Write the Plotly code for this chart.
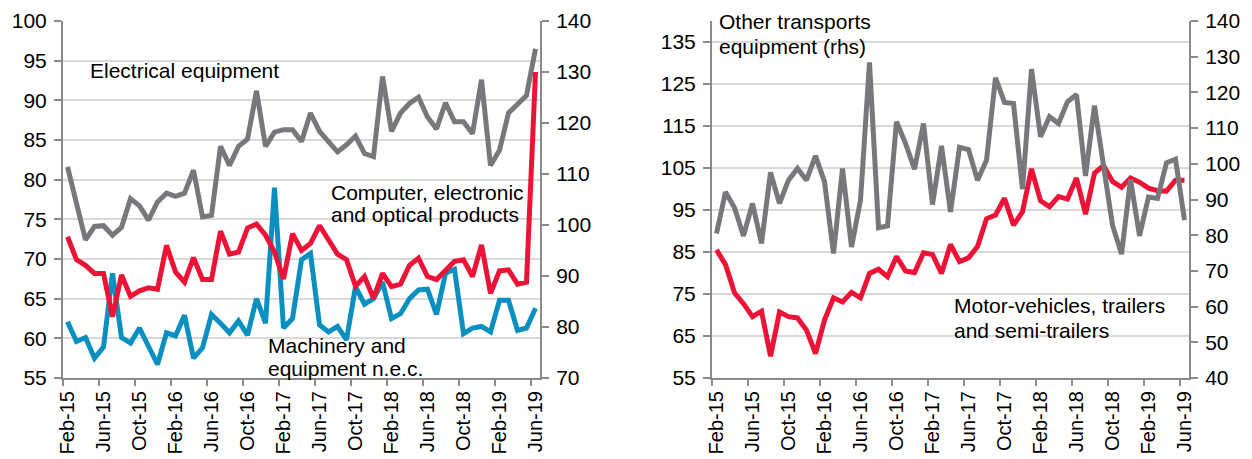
import plotly.graph_objects as go

# Categories: monthly, Feb-15 .. Jun-19
months = ["Feb-15","Mar-15","Apr-15","May-15","Jun-15","Jul-15","Aug-15","Sep-15","Oct-15","Nov-15","Dec-15",
          "Jan-16","Feb-16","Mar-16","Apr-16","May-16","Jun-16","Jul-16","Aug-16","Sep-16","Oct-16","Nov-16","Dec-16",
          "Jan-17","Feb-17","Mar-17","Apr-17","May-17","Jun-17","Jul-17","Aug-17","Sep-17","Oct-17","Nov-17","Dec-17",
          "Jan-18","Feb-18","Mar-18","Apr-18","May-18","Jun-18","Jul-18","Aug-18","Sep-18","Oct-18","Nov-18","Dec-18",
          "Jan-19","Feb-19","Mar-19","Apr-19","May-19","Jun-19"]
tick_labels = months[::4]

# Left panel
electrical = [81.6,77.2,72.4,74.1,74.2,73.0,74.0,77.6,76.7,74.9,77.2,78.3,77.9,78.3,81.2,75.3,75.5,84.2,81.8,84.2,
              85.1,91.2,84.2,86.0,86.3,86.3,84.8,88.4,86.1,84.8,83.5,84.4,85.5,83.3,82.9,93.0,86.1,88.4,89.6,90.4,
              87.9,86.4,89.7,87.3,87.3,85.8,92.6,81.8,83.7,88.4,89.4,90.6,96.5]
computer_rhs = [97.7,93.2,92.1,90.5,90.5,82.0,90.2,86.0,87.1,87.7,87.4,96.0,90.8,88.8,93.6,89.3,89.3,98.8,94.3,94.7,
                99.4,100.2,98.0,94.7,89.4,98.3,95.0,96.4,99.9,97.2,94.3,93.2,88.0,89.9,85.6,90.5,87.9,88.4,92.1,93.5,
                89.9,89.3,91.2,92.9,93.2,89.9,96.1,86.6,91.0,91.2,88.4,88.8,130.0]
machinery = [62.1,59.6,60.1,57.5,58.9,68.2,60.1,59.4,61.3,58.9,56.7,60.7,60.3,62.9,57.5,58.8,63.0,61.9,60.7,62.2,
             60.4,65.0,61.9,79.0,61.3,62.5,69.9,70.7,61.7,60.8,61.5,59.8,66.5,64.3,65.0,67.1,62.5,63.1,65.0,66.1,
             66.2,63.0,68.2,68.7,60.6,61.3,61.5,60.8,64.8,64.8,61.0,61.3,63.8]

# Right panel
other_transport_rhs = [80.5,92.1,87.7,79.8,88.9,77.7,97.6,88.9,95.4,98.7,95.4,102.2,95.0,74.9,98.7,76.7,89.8,128.4,82.1,82.6,
                       111.8,105.7,98.5,111.3,88.6,105.0,86.5,104.6,104.0,95.4,101.0,124.1,117.2,116.9,92.9,126.5,107.6,113.2,111.3,117.4,
                       119.4,96.6,116.3,100.1,82.8,74.7,95.6,79.8,90.7,90.3,100.3,101.3,84.2]
motor_vehicles = [85.5,82.0,75.3,72.7,69.6,70.9,60.2,70.7,69.6,69.3,66.4,60.8,68.8,74.1,73.1,75.4,74.1,79.9,80.9,79.1,
                  83.9,80.5,80.1,84.8,84.4,79.9,86.8,82.7,83.6,86.3,92.9,93.8,97.8,91.4,94.6,104.8,97.2,95.8,98.2,97.6,
                  102.6,94.0,103.8,105.6,101.8,100.4,102.6,101.6,100.2,99.6,99.5,102.1,102.1]

x = list(range(len(months)))
tickvals = x[::4]
minor_ticks = [v - 0.5 for v in tickvals]

GRAY = "#77787b"
RED = "#ec1337"
BLUE = "#0a8fc1"
AXIS = "#8a8a8a"
GRID = "#d9d9d9"
FONT = "Arial, Liberation Sans, sans-serif"
FS = 21

fig = go.Figure()
fig.add_trace(go.Scatter(x=x, y=electrical, mode="lines", line=dict(color=GRAY, width=5), xaxis="x", yaxis="y", name="Electrical equipment"))
fig.add_trace(go.Scatter(x=x, y=computer_rhs, mode="lines", line=dict(color=RED, width=5), xaxis="x", yaxis="y2", name="Computer, electronic and optical products"))
fig.add_trace(go.Scatter(x=x, y=machinery, mode="lines", line=dict(color=BLUE, width=5), xaxis="x", yaxis="y", name="Machinery and equipment n.e.c."))
fig.add_trace(go.Scatter(x=x, y=other_transport_rhs, mode="lines", line=dict(color=GRAY, width=5), xaxis="x2", yaxis="y4", name="Other transports equipment (rhs)"))
fig.add_trace(go.Scatter(x=x, y=motor_vehicles, mode="lines", line=dict(color=RED, width=5), xaxis="x2", yaxis="y3", name="Motor-vehicles, trailers and semi-trailers"))

W, H = 1252, 459
ml, mr, mt, mb = 63, 63, 21, 81
pw = W - ml - mr
d1 = [0, (540 - 63) / pw]
d2 = [(712 - 63) / pw, 1]

def xax(domain, anchor):
    return dict(domain=domain, anchor=anchor, range=[-0.5, len(months) - 0.5], tickmode="array",
                tickvals=tickvals, ticktext=tick_labels, tickangle=-90, ticks="",
                showline=True, linecolor=AXIS, linewidth=2, showgrid=False, zeroline=False,
                ticklabelstandoff=3, automargin=False,
                minor=dict(tickvals=minor_ticks, ticks="outside", ticklen=6, tickwidth=2, tickcolor=AXIS, showgrid=False),
                tickfont=dict(family=FONT, size=20, color="black"))

def yax(rng, tv, anchor, side="left", grid=True, overlaying=None):
    d = dict(range=rng, tickmode="array", tickvals=tv, anchor=anchor, side=side,
             showline=True, linecolor=AXIS, linewidth=2, ticks="outside", ticklen=7, tickwidth=2, tickcolor=AXIS,
             showgrid=grid, gridcolor=GRID, gridwidth=2, zeroline=False, ticklabelstandoff=3, automargin=False,
             tickfont=dict(family=FONT, size=FS, color="black"))
    if overlaying:
        d["overlaying"] = overlaying
    return d

fig.update_layout(
    width=W, height=H, margin=dict(l=ml, r=mr, t=mt, b=mb, autoexpand=False),
    paper_bgcolor="white", plot_bgcolor="white", showlegend=False,
    xaxis=xax(d1, "y"),
    xaxis2=xax(d2, "y3"),
    yaxis=yax([55, 100], list(range(55, 101, 5)), "x"),
    yaxis2=yax([70, 140], list(range(70, 141, 10)), "x", side="right", grid=False, overlaying="y"),
    yaxis3=yax([55, 140], list(range(55, 136, 10)), "x2"),
    yaxis4=yax([40, 140], list(range(40, 141, 10)), "x2", side="right", grid=False, overlaying="y3"),
)

def ann(text, xv, yv, xref, yref):
    fig.add_annotation(text=text, x=xv, y=yv, xref=xref, yref=yref, xanchor="left", yanchor="middle",
                       showarrow=False, font=dict(family=FONT, size=FS, color="black"))

ann("Electrical equipment", 2.3, 93.8, "x", "y")
ann("Computer, electronic", 29.0, 78.44, "x", "y")
ann("and optical products", 29.0, 75.67, "x", "y")
ann("Machinery and", 22.1, 59.16, "x", "y")
ann("equipment n.e.c.", 22.1, 56.26, "x", "y")
ann("Other transports", 0.1, 139.84, "x2", "y3")
ann("equipment (rhs)", 0.1, 133.9, "x2", "y3")
ann("Motor-vehicles, trailers", 26.2, 72.34, "x2", "y3")
ann("and semi-trailers", 26.2, 66.4, "x2", "y3")

fig.write_html("out.html", config={"displayModeBar": False},
               post_script="document.body.style.margin='0';document.body.style.overflow='hidden';")
